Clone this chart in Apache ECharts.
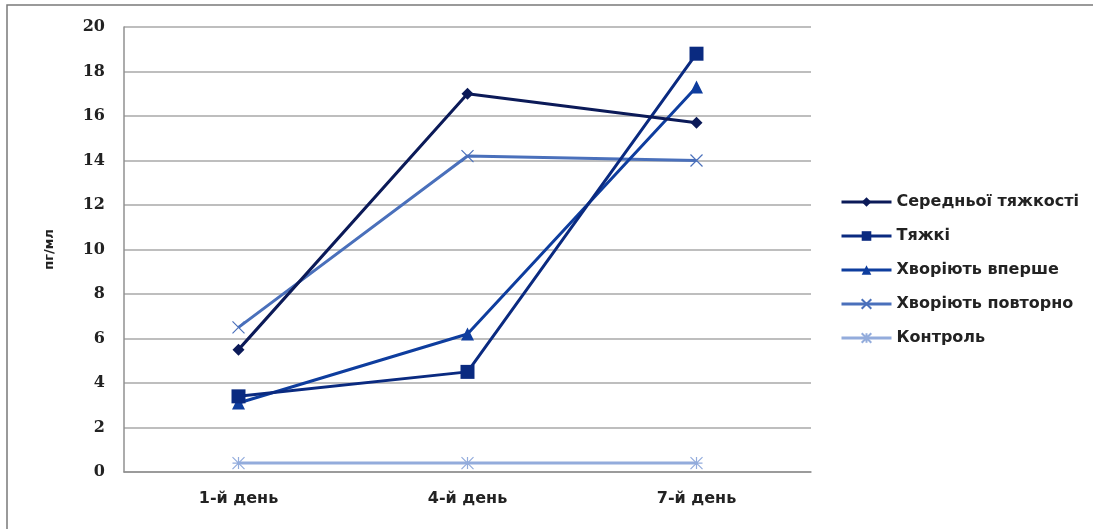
<!DOCTYPE html>
<html><head><meta charset="utf-8">
<script src="https://cdn.jsdelivr.net/npm/echarts@6/dist/echarts.min.js"></script>
<style>html,body{margin:0;padding:0;background:#fff}#c{width:1093px;height:529px}</style>
</head><body><div id="c"></div>
<script>
const categories = ['1-й день', '4-й день', '7-й день'];
const seriesNames = ['Середньої тяжкості', 'Тяжкі', 'Хворіють вперше', 'Хворіють повторно', 'Контроль'];
const sSeredn = [5.5, 17.0, 15.7];
const sTyazhki = [3.4, 4.5, 18.8];
const sVpershe = [3.1, 6.2, 17.3];
const sPovtorno = [6.5, 14.2, 14.0];
const sKontrol = [0.4, 0.4, 0.4];
const yTicks = [0, 2, 4, 6, 8, 10, 12, 14, 16, 18, 20];

const colors = ['#0b1a58', '#0a2a80', '#0e3d9e', '#4a70bb', '#93acdc'];
const xPath = 'path://M0,0L10,10M10,0L0,10';
const starPath = 'path://M0,0L10,10M10,0L0,10M5,0L5,10M0,5L10,5';
const symbols = ['diamond', 'rect', 'triangle', xPath, starPath];
const sizes = [12, 14, 13, 12, 12];
const data = [sSeredn, sTyazhki, sVpershe, sPovtorno, sKontrol];

const chart = echarts.init(document.getElementById('c'));
chart.setOption({
  animation: false,
  graphic: [{type: 'rect', shape: {x: 7, y: 5, width: 1200, height: 600}, style: {fill: 'none', stroke: '#7a7a7a', lineWidth: 1.5}, silent: true}],
  grid: {left: 124, right: 282, top: 27, bottom: 57},
  xAxis: {
    type: 'category', data: categories, boundaryGap: true,
    axisLine: {lineStyle: {color: '#909090', width: 1.5}},
    axisTick: {show: false},
    axisLabel: {color: '#222', fontWeight: 'bold', fontSize: 16, fontFamily: 'DejaVu Sans', margin: 19}
  },
  yAxis: {
    type: 'value', min: 0, max: 20, interval: 2,
    name: 'пг/мл', nameLocation: 'middle', nameGap: 68, nameRotate: 90,
    nameTextStyle: {color: '#222', fontWeight: 'bold', fontSize: 13, fontFamily: 'DejaVu Sans'},
    axisLine: {show: true, lineStyle: {color: '#909090', width: 1.5}},
    axisTick: {show: false},
    splitLine: {lineStyle: {color: '#a8a8a8', width: 1.5}},
    axisLabel: {color: '#222', fontWeight: 'bold', fontSize: 16, fontFamily: 'DejaVu Serif', margin: 19,
      formatter: v => yTicks.includes(v) ? String(v) : ''}
  },
  legend: {
    orient: 'vertical', left: 835, top: 189, itemGap: 18, itemWidth: 50, itemHeight: 12,
    lineStyle: {width: 3},
    textStyle: {color: '#222', fontSize: 16, fontFamily: 'DejaVu Sans', fontWeight: 'bold'},
    data: seriesNames
  },
  series: seriesNames.map((n, i) => ({
    name: n, type: 'line', data: data[i],
    symbol: symbols[i], symbolSize: sizes[i], showSymbol: true,
    lineStyle: {color: colors[i], width: 3},
    itemStyle: {color: (i >= 3 ? 'none' : colors[i]), borderColor: colors[i], borderWidth: (i >= 3 ? 1.2 : 0)},
    z: 10 - i
  }))
});
</script></body></html>
